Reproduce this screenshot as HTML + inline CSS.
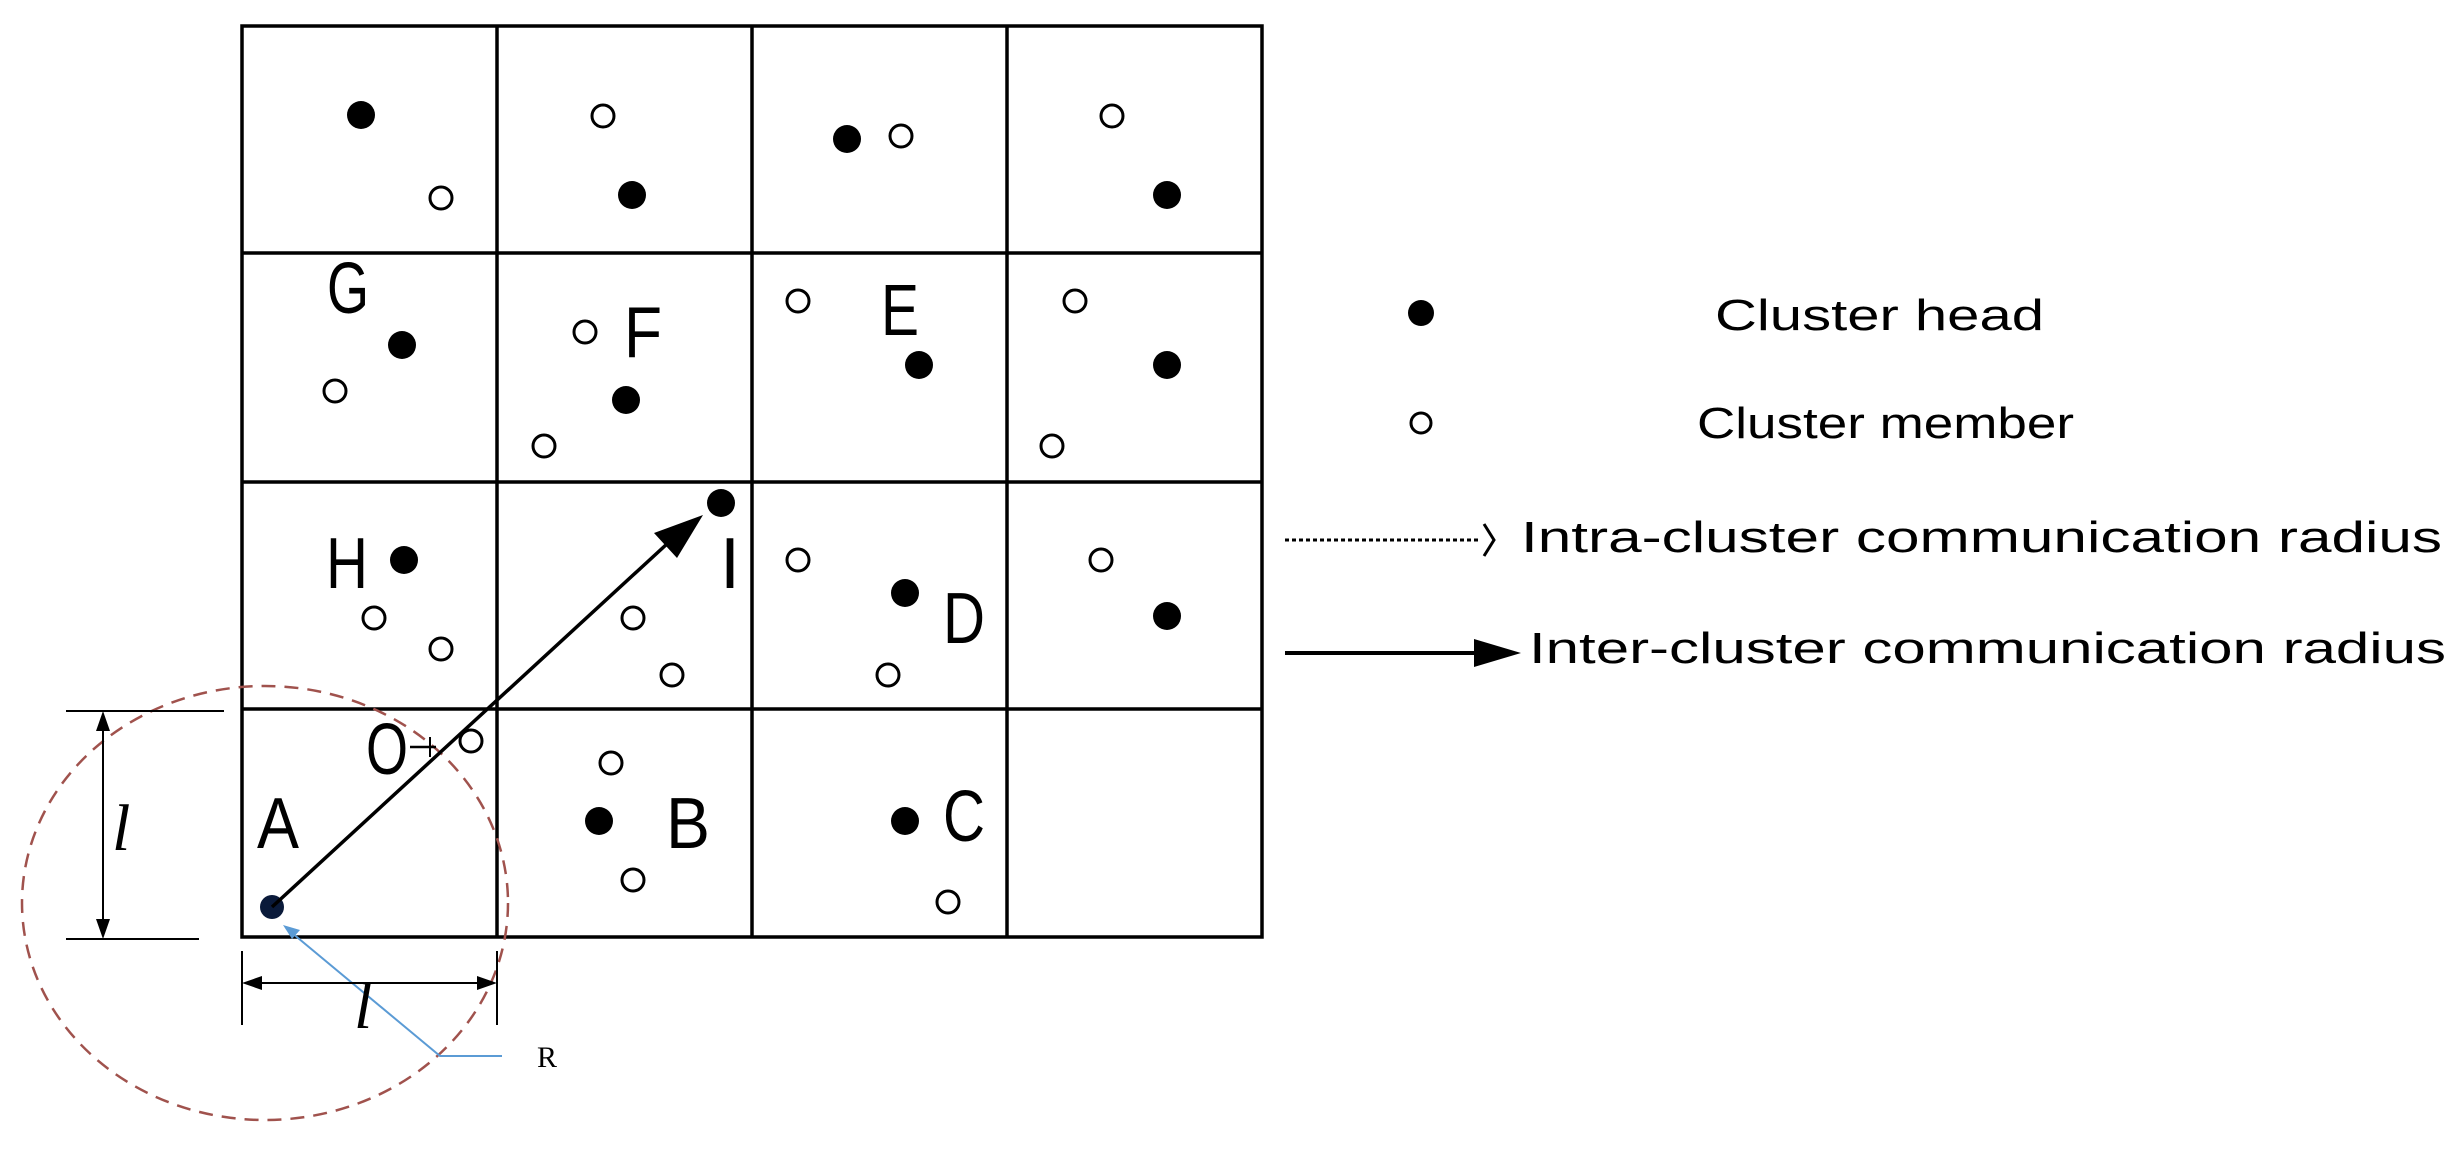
<!DOCTYPE html>
<html><head><meta charset="utf-8"><style>html,body{margin:0;padding:0;background:#fff;overflow:hidden}svg{display:block}</style></head>
<body>
<svg width="2464" height="1150" viewBox="0 0 2464 1150" xmlns="http://www.w3.org/2000/svg">
<g stroke="#000" stroke-width="3.5" fill="none">
<rect x="242" y="26" width="1020" height="911"/>
<line x1="497" y1="26" x2="497" y2="937"/><line x1="752" y1="26" x2="752" y2="937"/><line x1="1007" y1="26" x2="1007" y2="937"/>
<line x1="242" y1="253" x2="1262" y2="253"/><line x1="242" y1="482" x2="1262" y2="482"/><line x1="242" y1="709" x2="1262" y2="709"/>
</g>
<ellipse cx="265" cy="903" rx="243" ry="217" fill="none" stroke="#a0524d" stroke-width="2.5" stroke-dasharray="14,9"/>
<g fill="#000">
<circle cx="361" cy="115" r="14"/><circle cx="632" cy="195" r="14"/><circle cx="847" cy="139" r="14"/><circle cx="1167" cy="195" r="14"/>
<circle cx="402" cy="345" r="14"/><circle cx="626" cy="400" r="14"/><circle cx="919" cy="365" r="14"/><circle cx="1167" cy="365" r="14"/>
<circle cx="721" cy="503" r="14"/><circle cx="404" cy="560" r="14"/><circle cx="905" cy="593" r="14"/><circle cx="1167" cy="616" r="14"/>
<circle cx="599" cy="821" r="14"/><circle cx="905" cy="821" r="14"/><circle cx="272" cy="907" r="12" fill="#0a1a3a"/>
<circle cx="1421" cy="313" r="13"/>
</g>
<g fill="#fff" stroke="#000" stroke-width="3">
<circle cx="441" cy="198" r="11"/><circle cx="603" cy="116" r="11"/><circle cx="901" cy="136" r="11"/><circle cx="1112" cy="116" r="11"/>
<circle cx="335" cy="391" r="11"/><circle cx="585" cy="332" r="11"/><circle cx="544" cy="446" r="11"/><circle cx="798" cy="301" r="11"/><circle cx="1075" cy="301" r="11"/><circle cx="1052" cy="446" r="11"/>
<circle cx="374" cy="618" r="11"/><circle cx="441" cy="649" r="11"/><circle cx="633" cy="618" r="11"/><circle cx="672" cy="675" r="11"/><circle cx="798" cy="560" r="11"/><circle cx="888" cy="675" r="11"/><circle cx="1101" cy="560" r="11"/>
<circle cx="471" cy="741" r="11"/><circle cx="611" cy="763" r="11"/><circle cx="633" cy="880" r="11"/><circle cx="948" cy="902" r="11"/>
<circle cx="1421" cy="423" r="10"/>
</g>
<!-- main arrow -->
<line x1="272" y1="907" x2="668" y2="543" stroke="#000" stroke-width="3.5"/>
<path d="M703,515 L654,533 L677,558 Z" fill="#000"/>
<line x1="410" y1="747" x2="436" y2="747" stroke="#000" stroke-width="2.5"/>
<line x1="430" y1="737" x2="430" y2="757" stroke="#000" stroke-width="2"/>
<!-- blue R line -->
<polyline points="286,928 440,1056 502,1056" fill="none" stroke="#5b9bd5" stroke-width="2"/>
<path d="M283,925 L300,930 L292,939 Z" fill="#5b9bd5"/>
<!-- dimension lines -->
<g stroke="#000" stroke-width="2" fill="none">
<line x1="66" y1="711" x2="224" y2="711"/><line x1="66" y1="939" x2="199" y2="939"/>
<line x1="103" y1="722" x2="103" y2="928"/>
<line x1="242" y1="951" x2="242" y2="1025"/><line x1="497" y1="951" x2="497" y2="1025"/>
<line x1="255" y1="983" x2="484" y2="983"/>
</g>
<g fill="#000">
<path d="M103,711 L96,731 L110,731 Z"/><path d="M103,939 L96,919 L110,919 Z"/>
<path d="M242,983 L262,976 L262,990 Z"/><path d="M497,983 L477,976 L477,990 Z"/>
</g>
<g font-family="Liberation Serif, serif" font-style="italic" font-size="66" fill="#000">
<text x="112" y="850">l</text><text x="354" y="1028">l</text>
</g>
<text x="537" y="1067" font-family="Liberation Serif, serif" font-size="30" fill="#000">R</text>
<!-- grid letters -->
<g font-family="Liberation Sans, sans-serif" font-size="72" fill="#000" text-anchor="middle">
<text x="348" y="313" textLength="42" lengthAdjust="spacingAndGlyphs">G</text>
<text x="643" y="357" textLength="38" lengthAdjust="spacingAndGlyphs">F</text>
<text x="900" y="335" textLength="38" lengthAdjust="spacingAndGlyphs">E</text>
<text x="347" y="588" textLength="42" lengthAdjust="spacingAndGlyphs">H</text>
<text x="730" y="588">I</text>
<text x="964" y="643" textLength="42" lengthAdjust="spacingAndGlyphs">D</text>
<text x="387" y="774" textLength="42" lengthAdjust="spacingAndGlyphs">O</text>
<text x="278" y="848" textLength="42" lengthAdjust="spacingAndGlyphs">A</text>
<text x="688" y="848" textLength="44" lengthAdjust="spacingAndGlyphs">B</text>
<text x="964" y="841" textLength="42" lengthAdjust="spacingAndGlyphs">C</text>
</g>
<!-- legend -->
<line x1="1285" y1="540" x2="1480" y2="540" stroke="#000" stroke-width="3" stroke-dasharray="4,3"/>
<polyline points="1484,524 1494,540 1484,556" fill="none" stroke="#000" stroke-width="3"/>
<line x1="1285" y1="653" x2="1480" y2="653" stroke="#000" stroke-width="4"/>
<path d="M1474,639 L1521,653 L1474,667 Z" fill="#000"/>
<g font-family="Liberation Sans, sans-serif" font-size="44" fill="#000">
<text x="1715" y="330" textLength="329" lengthAdjust="spacingAndGlyphs">Cluster head</text>
<text x="1697" y="438" textLength="377" lengthAdjust="spacingAndGlyphs">Cluster member</text>
<text x="1521" y="552" textLength="921" lengthAdjust="spacingAndGlyphs">Intra-cluster communication radius</text>
<text x="1529" y="663" textLength="917" lengthAdjust="spacingAndGlyphs">Inter-cluster communication radius</text>
</g>
</svg>
</body></html>
